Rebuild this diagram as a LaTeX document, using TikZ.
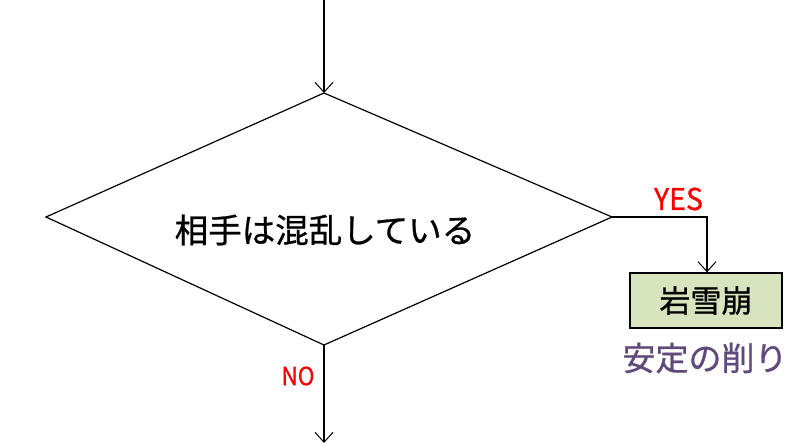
\documentclass[tikz,border=0pt]{standalone}
\usepackage{fontspec}
\newfontfamily\jp{Noto Sans CJK JP}[FakeBold=0.8,AutoFakeBold=0.8]
\usetikzlibrary{arrows.meta}
\definecolor{boxfill}{HTML}{D7E4BD}
\definecolor{subpurple}{HTML}{604A7B}
\definecolor{lblred}{HTML}{FF0000}
\begin{document}
\begin{tikzpicture}[x=1pt,y=-1pt,
  conn/.style={draw=black,line width=1.2pt},
  arr/.style={conn,-{Straight Barb[length=10pt,width=18pt,line width=1pt]}},
  lbl/.style={text=lblred,inner sep=0pt},
  proc/.style={draw=black,line width=1.3pt,fill=boxfill,minimum width=152pt,minimum height=55pt,inner sep=0pt,font=\jp\bfseries\fontsize{31}{34}\selectfont}]
\useasboundingbox (0,0) rectangle (799,446);
\coordinate (top) at (324,93);
\coordinate (left) at (46,217);
\coordinate (right) at (612,217);
\coordinate (bot) at (324,345);
\coordinate (start) at (324,0);
\coordinate (end) at (324,443);
\coordinate (turn) at (707,217);
\draw[line width=1.2pt] (top) -- (right) -- (bot) -- (left) -- cycle;
\node[font=\jp\bfseries\fontsize{33.5}{36}\selectfont,inner sep=0pt] (cond) at (325,230) {相手は混乱している};
\node[proc] (box) at (706,300.5) {岩雪崩};
\node[text=subpurple,font=\jp\fontsize{33}{36}\selectfont,inner sep=0pt] (sub) at (705,358) {安定の削り};
\node[lbl,font=\jp\fontsize{30}{32}\selectfont,xscale=0.95] (yes) at (678.5,199) {YES};
\node[lbl,font=\jp\fontsize{25}{28}\selectfont,xscale=0.9] (no) at (298,376) {NO};
\draw[arr] (start) -- (top);
\draw[arr] (right) -- (turn) -- (box.north -| turn);
\draw[arr] (bot) -- (end);
\end{tikzpicture}
\end{document}
